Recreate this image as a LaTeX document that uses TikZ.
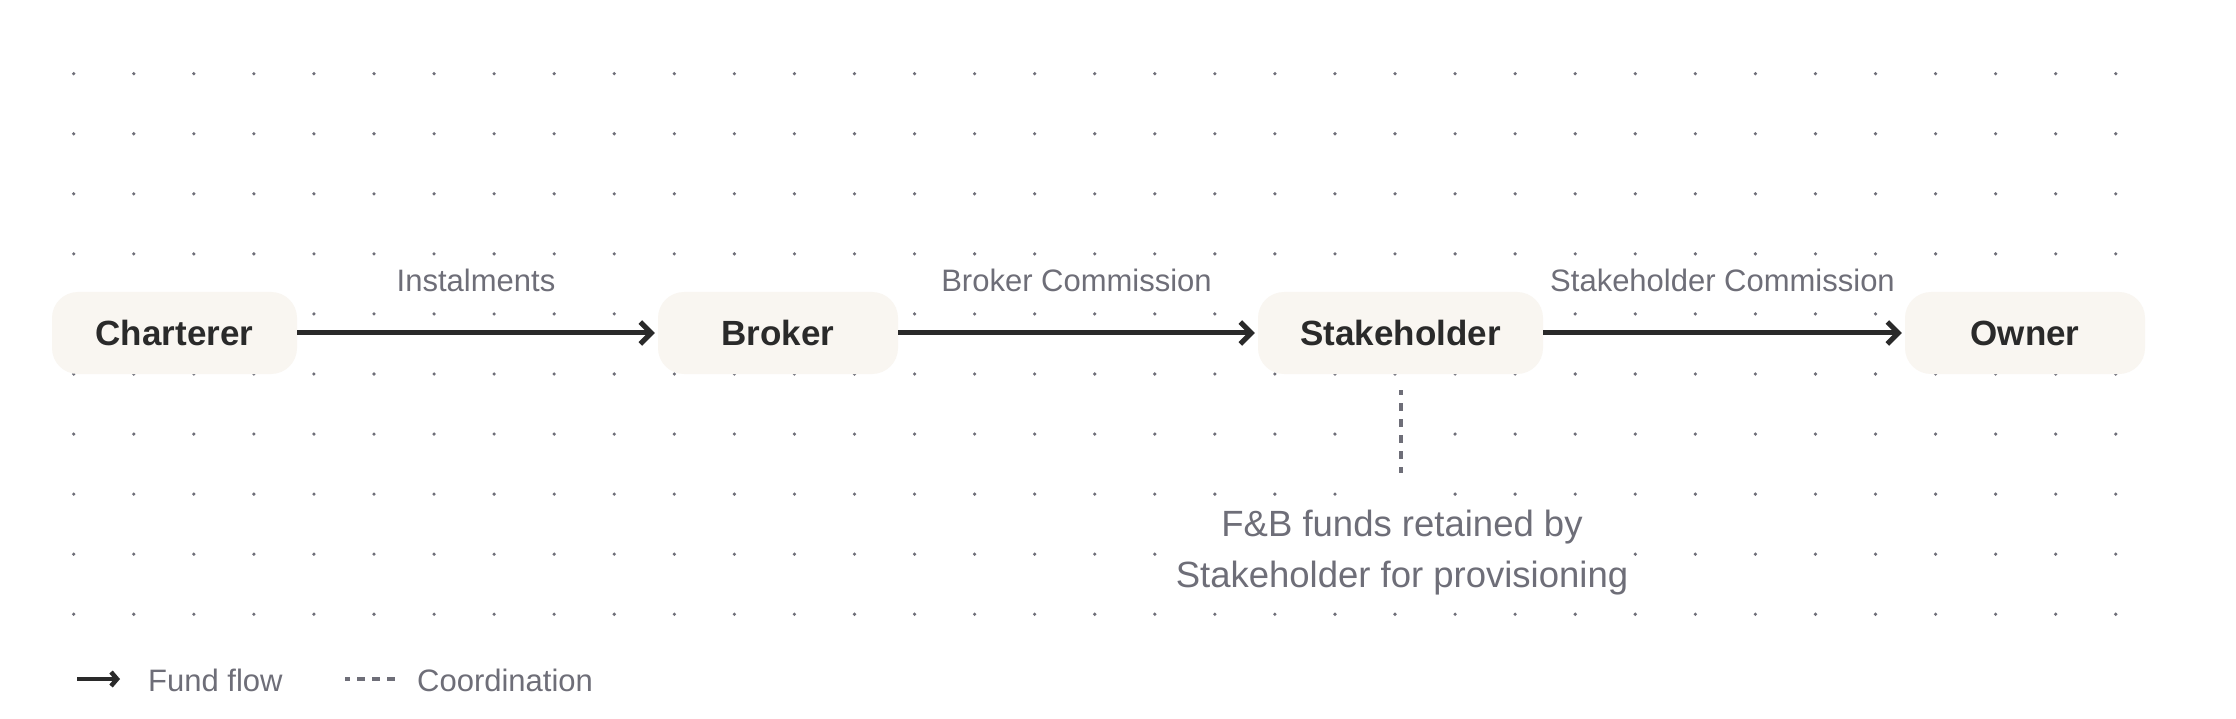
\documentclass[tikz,border=0pt]{standalone}
\usepackage{fontspec}
\setmainfont{Liberation Sans}
\usetikzlibrary{arrows.meta,calc}
\definecolor{ink}{RGB}{42,42,42}
\definecolor{muted}{RGB}{110,110,120}
\definecolor{boxfill}{RGB}{249,246,241}
\tikzset{
  entity/.style={fill=boxfill, rounded corners=26pt, minimum height=82pt, inner sep=0pt,
     text=ink, font=\bfseries\fontsize{35}{40}\selectfont},
  flow/.style={draw=ink, line width=5pt, -{Straight Barb[length=11pt,width=22pt]}},
  lbl/.style={text=muted, inner sep=0pt, font=\fontsize{31}{36}\selectfont},
  coord/.style={draw=muted, line width=4pt, dash pattern=on 8pt off 8pt, dash phase=3pt},
  dotc/.style={fill=muted}
}
\begin{document}
\begin{tikzpicture}[x=1pt,y=-1pt]
\fill[white] (0,0) rectangle (2236,719);
\useasboundingbox (0,0) rectangle (2236,719);
% dot grid
\foreach \i in {0,...,34}{\foreach \j in {0,...,9}{
  \pgfmathtruncatemacro\skipit{(\i==22 && (\j==6 || \j==7)) ? 1 : 0}
  \ifnum\skipit=0 \fill[dotc] (73.7+60.06*\i, 73.7+60.06*\j) circle[radius=1.8pt];\fi
}}
% entities
\node[entity, minimum width=245pt] (ch) at (174.5,333) {Charterer};
\node[entity, minimum width=240pt] (br) at (778,333) {Broker};
\node[entity, minimum width=285pt] (sh) at (1400.5,333) {Stakeholder};
\node[entity, minimum width=240pt] (ow) at (2025,333) {Owner};
% flows
\draw[flow] (ch.east) -- ([xshift=-3pt]br.west) coordinate[pos=0.5] (m1);
\draw[flow] (br.east) -- ([xshift=-3pt]sh.west) coordinate[pos=0.5] (m2);
\draw[flow] (sh.east) -- ([xshift=-3pt]ow.west) coordinate[pos=0.5] (m3);
\node[lbl, anchor=base] (l1) at ([yshift=41pt]m1) {Instalments};
\node[lbl, anchor=base] (l2) at ([yshift=41pt]m2) {Broker Commission};
\node[lbl, anchor=base] (l3) at ([yshift=41pt]m3) {Stakeholder Commission};
% coordination
\coordinate (d1) at ([yshift=-16pt]sh.south);
\coordinate (d2) at ([yshift=-99pt]sh.south);
\draw[coord] (d1) -- (d2);
\node[lbl, anchor=north, align=center, fill=white, inner xsep=1pt, inner ysep=2pt,
      font=\fontsize{36.5}{51}\selectfont] (fb) at (1402,508)
  {F\&B funds retained by\\Stakeholder for provisioning};
% legend
\coordinate (la1) at (77,679);
\coordinate (la2) at (120,679);
\draw[draw=ink, line width=4.5pt, -{Straight Barb[length=6pt,width=14pt]}] (la1) -- (la2);
\node[lbl, anchor=base west] (lf) at (148,691) {Fund flow};
\coordinate (ld1) at (345,679);
\coordinate (ld2) at (398,679);
\draw[draw=muted, line width=3.5pt, dash pattern=on 8pt off 7pt, dash phase=3pt] (ld1) -- (ld2);
\node[lbl, anchor=base west] (lc) at (417,691) {Coordination};
\end{tikzpicture}
\end{document}
